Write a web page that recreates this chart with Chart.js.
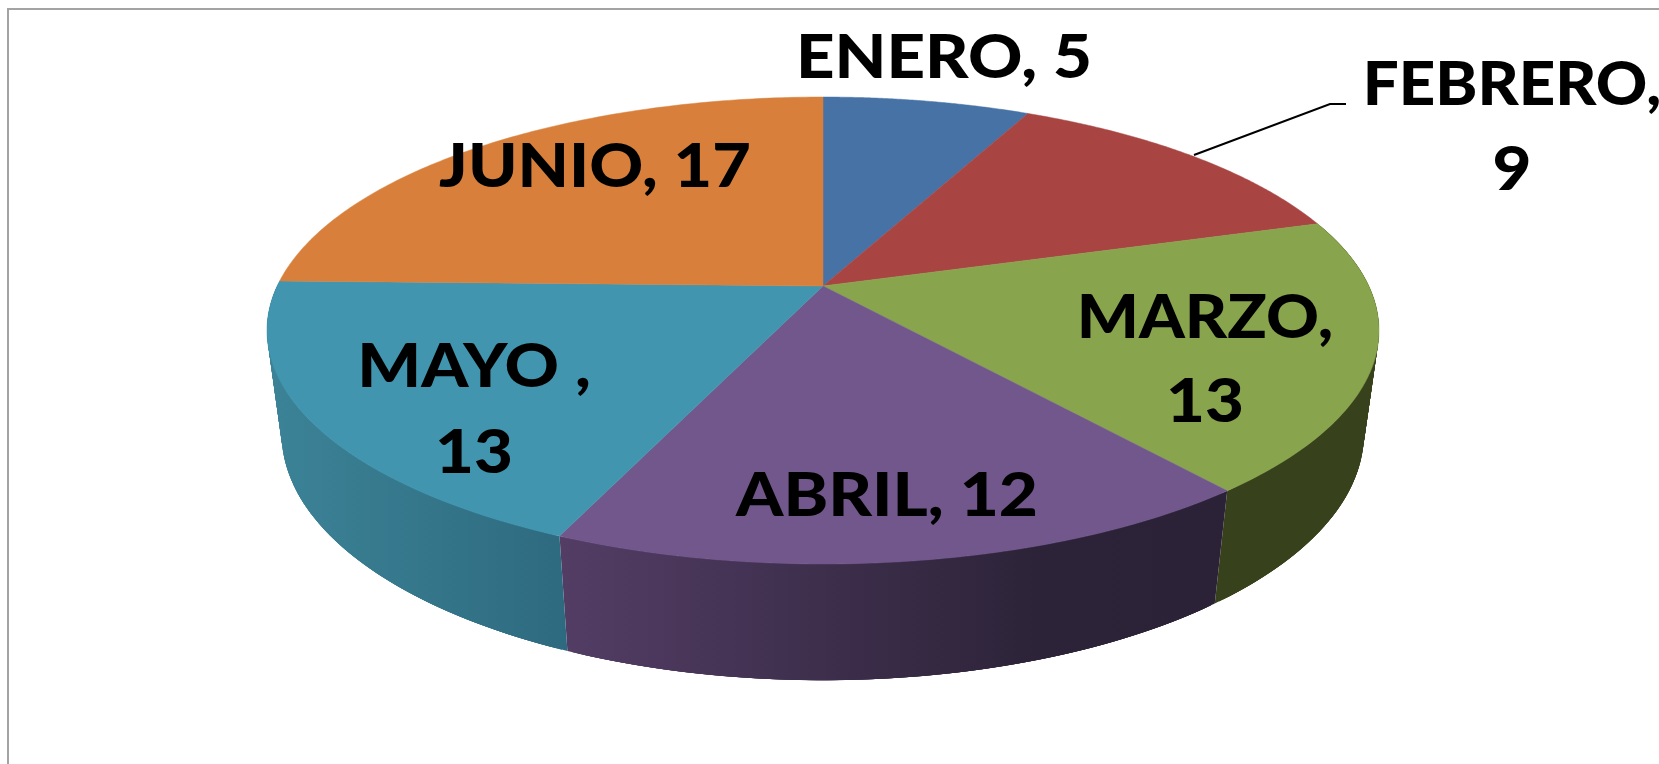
<!DOCTYPE html>
<html>
<head>
<meta charset="utf-8">
<title>Pie</title>
<script src="https://cdn.jsdelivr.net/npm/chart.js@4/dist/chart.umd.js"></script>
<style>
  html, body { margin: 0; padding: 0; background: #fff; }
  canvas { display: block; }
</style>
</head>
<body>
<canvas id="meses" width="1659" height="764"></canvas>
<script>
var months = ["ENERO", "FEBRERO", "MARZO", "ABRIL", "MAYO ", "JUNIO"];
var counts = [5, 9, 13, 12, 13, 17];
var topColors = ["#4672a6", "#a84543", "#88a44d", "#71578c", "#4195ae", "#d8803b"];

// side wall shades, left to right, only the slices facing the viewer have one
var wallColors = {
    2: [[0, "#37421c"], [1, "#37421c"]],
    3: [[0, "#533d65"], [0.72, "#2c2338"], [1, "#2b2237"]],
    4: [[0, "#3c8397"], [1, "#2e6a7f"]]
};

// label placement: x centre, baseline of the first line, baseline of the second line if wrapped
var labelPlaces = [
    [944, 78],
    [1512, 105, 190],
    [1205, 338, 422],
    [887, 516],
    [474, 387, 473],
    [595, 187]
];
// the original lettering is wider than Lato
var labelStretch = [1.12, 1.06, 1.09, 1.125, 1.12, 1.11];
var secondLineStretch = 1.12;
var leader = [[1194, 155], [1330, 104], [1346, 104]];

// perspective of the disc, in px on the page
var persp = { tilt: 0.1906, rx: 545.8, ry: 225, pull: 0.0265, vx: 815, vy: 4230 };

function project(arc, angle, lower) {
    var u = Math.cos(angle), v = -Math.sin(angle);
    var w = 1 + persp.tilt * v;
    var x = arc.x + persp.rx * u / w;
    var y = arc.y - persp.ry * v / w;
    if (lower) {
        x = (x * w + persp.pull * persp.vx) / (w + persp.pull);
        y = (y * w + persp.pull * persp.vy) / (w + persp.pull);
    }
    return [x, y];
}

function arcPoints(arc, lower) {
    var pts = [];
    var steps = 120;
    for (var i = 0; i <= steps; i++) {
        pts.push(project(arc, arc.startAngle + (arc.endAngle - arc.startAngle) * i / steps, lower));
    }
    return pts;
}

function trace(ctx, pts) {
    pts.forEach(function (p) {
        ctx.lineTo(p[0], p[1]);
    });
}

function stretchedText(ctx, text, x, y, stretch) {
    ctx.save();
    ctx.translate(x, y);
    ctx.scale(stretch, 1);
    ctx.fillText(text, 0, 0);
    ctx.restore();
}

var pie3d = {
    id: "pie3d",
    beforeDatasetsDraw: function (chart) {
        var ctx = chart.ctx;
        var arcs = chart.getDatasetMeta(0).data;

        // frame, only top and left are in the picture
        ctx.save();
        ctx.strokeStyle = "#a3a3a3";
        ctx.lineWidth = 2;
        ctx.beginPath();
        ctx.moveTo(8, 764);
        ctx.lineTo(8, 9);
        ctx.lineTo(1659, 9);
        ctx.stroke();

        // walls first, the top faces cover what is behind
        arcs.forEach(function (arc, i) {
            if (!wallColors[i]) return;
            var upper = arcPoints(arc, false);
            var lower = arcPoints(arc, true);
            var xs = upper.concat(lower).map(function (p) { return p[0]; });
            var grad = ctx.createLinearGradient(Math.min.apply(null, xs), 0, Math.max.apply(null, xs), 0);
            wallColors[i].forEach(function (s) { grad.addColorStop(s[0], s[1]); });
            ctx.fillStyle = grad;
            // overlapping quads, so there are no seams and the silhouette at the sides stays straight
            var span = 4;
            for (var k = 0; k + span < upper.length; k++) {
                ctx.beginPath();
                trace(ctx, [upper[k], upper[k + span], lower[k + span], lower[k]]);
                ctx.closePath();
                ctx.fill();
            }
        });

        arcs.forEach(function (arc, i) {
            ctx.fillStyle = topColors[i];
            ctx.strokeStyle = topColors[i];
            ctx.lineWidth = 0.5;
            ctx.beginPath();
            ctx.moveTo(arc.x, arc.y);
            trace(ctx, arcPoints(arc, false));
            ctx.closePath();
            ctx.fill();
            ctx.stroke();
        });

        // leader line of FEBRERO
        ctx.strokeStyle = "#000";
        ctx.lineWidth = 2;
        ctx.beginPath();
        trace(ctx, leader);
        ctx.stroke();

        // data labels
        ctx.fillStyle = "#000";
        ctx.font = "900 60px Lato";
        ctx.textAlign = "center";
        ctx.textBaseline = "alphabetic";
        months.forEach(function (m, i) {
            var place = labelPlaces[i];
            if (place.length === 3) {
                stretchedText(ctx, m + ",", place[0], place[1], labelStretch[i]);
                stretchedText(ctx, String(counts[i]), place[0], place[2], secondLineStretch);
            } else {
                stretchedText(ctx, m + ", " + counts[i], place[0], place[1], labelStretch[i]);
            }
        });
        ctx.restore();

        // the slices are painted above, in perspective
        return false;
    }
};

var ctx = document.getElementById("meses").getContext("2d");
var chart = new Chart(ctx, {
    type: "pie",
    data: {
        labels: months,
        datasets: [{
            label: "Meses",
            data: counts,
            backgroundColor: topColors,
            borderWidth: 0
        }]
    },
    options: {
        responsive: false,
        animation: false,
        layout: { padding: { left: 0, top: 0, right: 13, bottom: 192 } },
        plugins: {
            legend: { display: false },
            tooltip: { enabled: false }
        }
    },
    plugins: [pie3d]
});
</script>
</body>
</html>
